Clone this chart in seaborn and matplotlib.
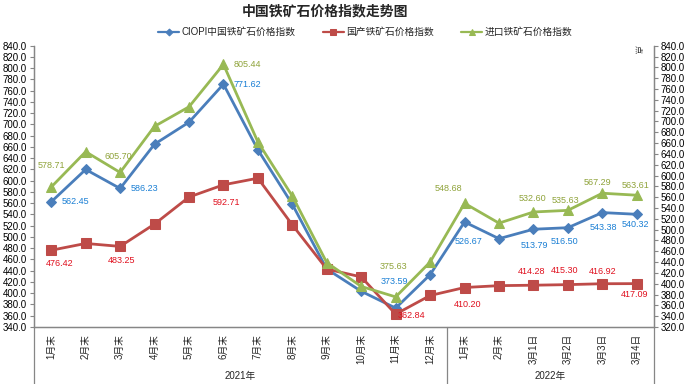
import numpy as np
import pandas as pd
import seaborn as sns
import matplotlib.pyplot as plt
import matplotlib.transforms as mtransforms
from matplotlib.ticker import FormatStrFormatter

sns.set_theme(style='white')
plt.rcParams['font.family'] = ['Liberation Sans', 'Noto Sans CJK SC', 'DejaVu Sans']
plt.rcParams['axes.unicode_minus'] = False

# categories (2021: 12 months, 2022: 6 points)
categories = ['1月末', '2月末', '3月末', '4月末', '5月末', '6月末', '7月末', '8月末', '9月末',
              '10月末', '11月末', '12月末', '1月末', '2月末', '3月1日', '3月2日', '3月3日', '3月4日']
years = ['2021年', '2022年']
year_counts = [12, 6]

# series values
ciopi = [562.45, 620.0, 586.23, 665.0, 704.0, 771.62, 655.0, 558.0, 443.0, 403.5,
         373.59, 433.0, 526.67, 497.0, 513.79, 516.50, 543.38, 540.32]
domestic = [476.42, 488.5, 483.25, 523.0, 571.0, 592.71, 604.5, 521.5, 443.0, 429.0,
            362.84, 396.0, 410.20, 413.5, 414.28, 415.30, 416.92, 417.09]
imported = [578.71, 644.0, 605.70, 691.0, 727.0, 805.44, 662.0, 562.0, 439.0, 395.0,
            375.63, 440.0, 548.68, 512.0, 532.60, 535.63, 567.29, 563.61]

names = ['CIOPI中国铁矿石价格指数', '国产铁矿石价格指数', '进口铁矿石价格指数']

# which points carry a value label, and where (pixel offset dx, dy)
ciopi_lbl = {0: (24, 0), 2: (24, 0), 5: (24, 0), 10: (-1, 27), 12: (4, -20),
             14: (1, -16), 15: (-3, -14), 16: (1, -15), 17: (-1, -10)}
domestic_lbl = {0: (8, -13), 2: (1, -14), 5: (3, -18), 10: (16, -1), 12: (3, -17),
                14: (-2, 14), 15: (-3, 14), 16: (0, 12), 17: (-2, -11)}
imported_lbl = {0: (0, 22), 2: (-2, 16), 5: (24, 0), 10: (-2, 30), 12: (-16, 15),
                14: (-1, 13), 15: (-2, 10), 16: (-5, 11), 17: (-1, 10)}

blue, red, green = '#4A7EBB', '#BE4B48', '#98B954'
blue_t, red_t, green_t = '#1A7FD4', '#E0101E', '#8FA33A'
grey = '#868686'

x = np.arange(len(categories))
df = pd.DataFrame({'x': x, 'ciopi': ciopi, 'domestic': domestic, 'imported': imported})

fig = plt.figure(figsize=(6.91, 3.84), dpi=100)
ax = fig.add_axes([34 / 691, 1 - 327 / 384, 620 / 691, (327 - 45.7) / 384])
ax2 = ax.twinx()

sns.lineplot(data=df, x='x', y='ciopi', ax=ax, color=blue, marker='D', markersize=5,
             markeredgecolor=blue, linewidth=2.0, label=names[0], legend=False)
sns.lineplot(data=df, x='x', y='domestic', ax=ax, color=red, marker='s', markersize=6.5,
             markeredgecolor=red, linewidth=2.0, label=names[1], legend=False)
sns.lineplot(data=df, x='x', y='imported', ax=ax2, color=green, marker='^', markersize=7,
             markeredgecolor=green, linewidth=2.0, label=names[2], legend=False)


def add_labels(axis, vals, lbls, color):
    for i, (dx, dy) in lbls.items():
        axis.annotate(f'{vals[i]:.2f}', (x[i], vals[i]), xytext=(dx * 0.72, dy * 0.72),
                      textcoords='offset points', ha='center', va='center',
                      fontsize=6.5, color=color)


add_labels(ax, ciopi, ciopi_lbl, blue_t)
add_labels(ax, domestic, domestic_lbl, red_t)
add_labels(ax2, imported, imported_lbl, green_t)

ax.set_xlim(-0.5, len(categories) - 0.5)
ax.set_ylim(340, 840)
ax2.set_ylim(320, 840)
ax.set_yticks(np.arange(340, 841, 20))
ax2.set_yticks(np.arange(320, 841, 20))
for a in (ax, ax2):
    a.yaxis.set_major_formatter(FormatStrFormatter('%.1f'))
    a.tick_params(axis='y', labelsize=7, length=3, width=0.8, color=grey,
                  direction='out', pad=2, labelcolor='black')
    a.set_xlabel('')
    a.set_ylabel('')
    for s in a.spines.values():
        s.set_color(grey)
        s.set_linewidth(0.9)
    a.spines['top'].set_visible(False)
    a.grid(False)

ax.set_xticks(x)
ax.set_xticklabels(categories, rotation=90, fontsize=7, va='top')
ax.set_xticks(np.arange(-0.5, len(categories), 1), minor=True)
ax.tick_params(axis='x', which='major', length=0, pad=5)
ax.tick_params(axis='x', which='minor', length=21, width=0.9, color=grey, direction='out')

# group separators and year labels below the axis
trans = mtransforms.blended_transform_factory(ax.transData, ax.transAxes)
edges = np.concatenate([[0], np.cumsum(year_counts)]) - 0.5
for e in edges:
    ax.plot([e, e], [0, -0.205], transform=trans, color=grey, lw=0.9, clip_on=False)
for i, yr in enumerate(years):
    ax.text((edges[i] + edges[i + 1]) / 2, -0.174, yr, transform=trans,
            ha='center', va='center', fontsize=7)

fig.text(325 / 691, 1 - 11 / 384, '中国铁矿石价格指数走势图', ha='center', va='center',
         fontsize=10, fontweight='bold')
fig.text(637 / 691, 1 - 49 / 384, '点', ha='center', va='center', fontsize=6, rotation=-90)

handles = ax.get_lines()[:2] + ax2.get_lines()[:1]
leg = fig.legend(handles, names, loc='center', bbox_to_anchor=(365 / 691, 1 - 32 / 384), ncol=3,
                 frameon=False, fontsize=7, handlelength=2.2, columnspacing=2.8,
                 handletextpad=0.2, markerscale=0.7)
for h in leg.legend_handles:
    h.set_linewidth(1.6)

fig.savefig('out.png', dpi=100)
